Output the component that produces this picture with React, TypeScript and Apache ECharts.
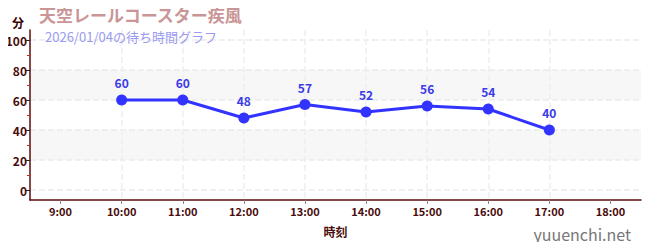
import React, { useEffect, useRef } from "react";
import * as echarts from "echarts";

const hours = ["9:00", "10:00", "11:00", "12:00", "13:00", "14:00", "15:00", "16:00", "17:00", "18:00"];
const hourValues = [9, 10, 11, 12, 13, 14, 15, 16, 17, 18];
const waitMinutes: (number | null)[] = [null, 60, 60, 48, 57, 52, 56, 54, 40, null];
const titleText = "天空レールコースター疾風";
const subtitleText = "2026/01/04の待ち時間グラフ";
const yName = "分";
const xName = "時刻";
const siteName = "yuuenchi.net";

const AXIS = "#5c0a0a";
const LABEL = "#4a0c0c";
const FONT = "'Noto Sans CJK JP', 'Noto Sans', sans-serif";

export default function App() {
  const ref = useRef<HTMLDivElement>(null);
  useEffect(() => {
    if (!ref.current) return;
    const chart = echarts.init(ref.current, undefined, { renderer: "svg" });
    const firstHour = hourValues[0];
    const lastHour = hourValues[hourValues.length - 1];
    chart.setOption({
      animation: false,
      textStyle: { fontFamily: FONT },
      title: [
        {
          text: titleText,
          left: 34,
          top: 1,
          textStyle: { fontSize: 17, fontWeight: "bold", color: "#c99595", fontFamily: FONT },
        },
        {
          text: subtitleText,
          left: 40,
          top: 25,
          textStyle: { fontSize: 13, fontWeight: "normal", color: "#9a9af0", fontFamily: FONT },
        },
        {
          text: siteName,
          right: 14,
          top: 221,
          textStyle: { fontSize: 16, fontWeight: "normal", color: "#777777", fontFamily: FONT },
        },
      ],
      grid: [
        // frame grid: axis lines, hour labels, vertical guides
        { left: 30, right: 9, top: 30, bottom: 50 },
        // data grid: 0..100 minutes
        { left: 30, right: 9, top: 40, bottom: 60 },
      ],
      xAxis: [
        {
          type: "value",
          gridIndex: 0,
          min: firstHour - 0.5,
          max: lastHour + 0.5,
          splitNumber: hourValues.length,
          name: xName,
          nameLocation: "middle",
          nameGap: 25,
          nameTextStyle: { color: LABEL, fontSize: 12, fontWeight: "bold" },
          axisLine: { show: true, onZero: false, lineStyle: { color: AXIS, width: 1.5 } },
          axisTick: { show: true, length: 4, customValues: hourValues, lineStyle: { color: "#888" } },
          axisLabel: {
            color: LABEL,
            fontSize: 11,
            fontWeight: "bold",
            margin: 5,
            showMinLabel: false,
            showMaxLabel: false,
            formatter: (v: number) => hours[hourValues.indexOf(v)] ?? "",
          },
          splitLine: {
            show: true,
            showMinLine: false,
            showMaxLine: false,
            lineStyle: { color: "#eeeeee", type: "dashed", width: 1.5 },
          },
        },
        {
          type: "category",
          gridIndex: 1,
          data: hours,
          boundaryGap: true,
          show: false,
        },
      ],
      yAxis: [
        {
          type: "value",
          gridIndex: 0,
          min: 0,
          max: 1,
          axisLine: { show: true, lineStyle: { color: AXIS, width: 1.5 } },
          axisTick: { show: false },
          axisLabel: { show: false },
          splitLine: { show: false },
        },
        {
          type: "value",
          gridIndex: 1,
          min: 0,
          max: 100,
          interval: 20,
          name: yName,
          nameLocation: "end",
          nameGap: 12,
          nameTextStyle: { color: "#3a0000", fontSize: 12, fontWeight: "bold", align: "right", padding: [0, 6, 0, 0] },
          axisLine: { show: false },
          axisTick: { show: true, length: 5, lineStyle: { color: "#222" } },
          minorTick: { show: true, splitNumber: 2, length: 3, lineStyle: { color: "#e02020" } },
          axisLabel: { color: LABEL, fontSize: 12, fontWeight: "bold", margin: 3 },
          splitLine: { show: true, lineStyle: { color: "#ececec", type: "dashed", width: 1.5 } },
          splitArea: { show: true, areaStyle: { color: ["rgba(255,255,255,0)", "#f7f7f7"] } },
        },
      ],
      series: [
        {
          type: "line",
          xAxisIndex: 1,
          yAxisIndex: 1,
          data: waitMinutes,
          symbol: "circle",
          symbolSize: 11,
          lineStyle: { color: "#3333ff", width: 3 },
          itemStyle: { color: "#3333ff" },
          label: {
            show: true,
            position: "top",
            distance: 6,
            color: "#3a3ae6",
            fontSize: 12,
            fontWeight: "bold",
          },
        },
      ],
    });
    return () => chart.dispose();
  }, []);
  return <div ref={ref} style={{ width: 650, height: 250, margin: -8 }} />;
}
